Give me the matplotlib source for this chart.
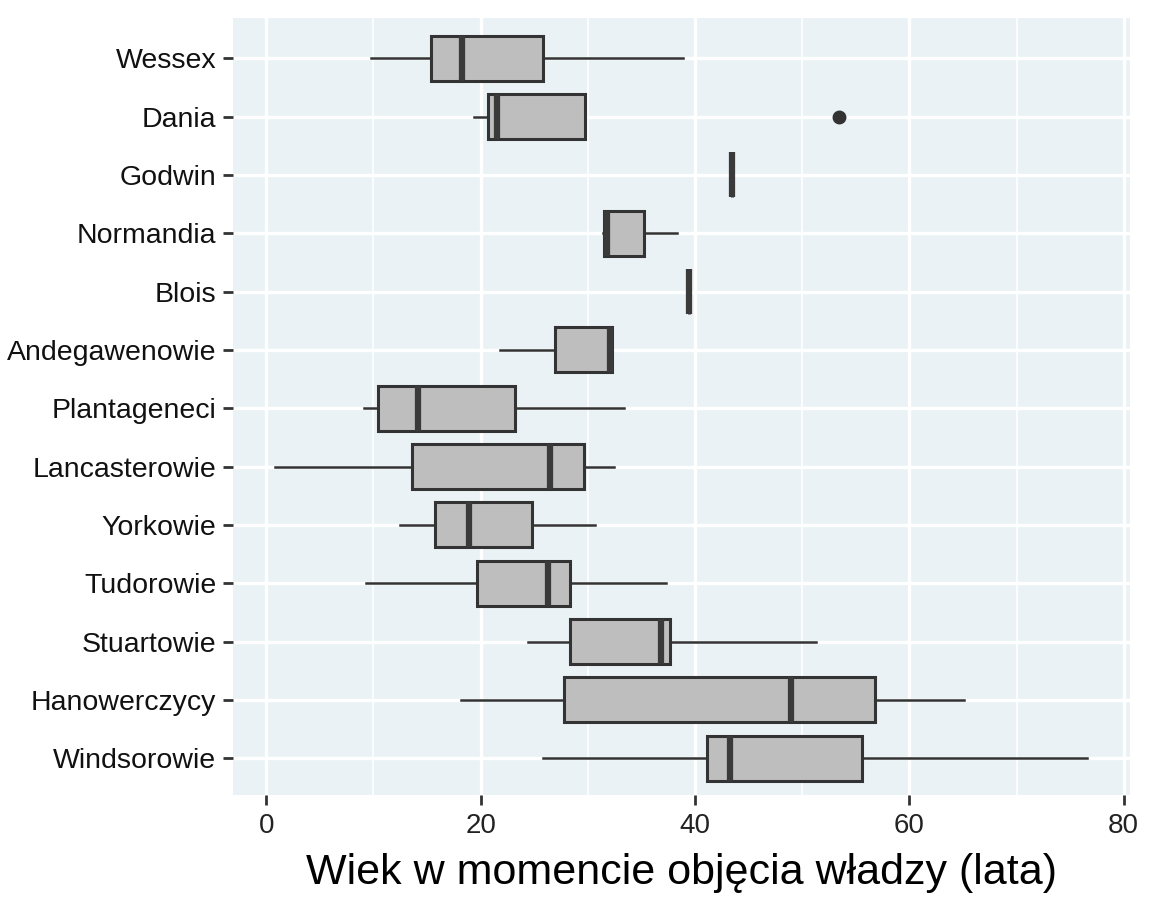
import matplotlib
matplotlib.use("Agg")
import matplotlib.pyplot as plt
from matplotlib.ticker import MultipleLocator

plt.rcParams['font.family'] = ['Liberation Sans', 'DejaVu Sans']

# dynastie, od gory do dolu
dynasties = ["Wessex", "Dania", "Godwin", "Normandia", "Blois", "Andegawenowie",
             "Plantageneci", "Lancasterowie", "Yorkowie", "Tudorowie", "Stuartowie",
             "Hanowerczycy", "Windsorowie"]

# statystyki (lata)
wlo = [9.8, 19.4, 43.5, 31.4, 39.4, 21.8, 9.1, 0.8, 12.5, 9.3, 24.4, 18.2, 25.8]
q1 = [15.4, 20.7, 43.5, 31.5, 39.4, 26.9, 10.4, 13.6, 15.7, 19.7, 28.3, 27.8, 41.1]
med = [18.3, 21.5, 43.5, 31.8, 39.4, 32.1, 14.2, 26.5, 18.9, 26.3, 36.8, 49.0, 43.3]
q3 = [25.8, 29.7, 43.5, 35.2, 39.4, 32.3, 23.2, 29.6, 24.8, 28.3, 37.7, 56.8, 55.6]
whi = [38.9, 29.7, 43.5, 38.3, 39.4, 32.3, 33.4, 32.4, 30.7, 37.3, 51.3, 65.1, 76.6]
outliers = {"Dania": [53.4]}

stats = []
for i, name in enumerate(dynasties):
    stats.append({"whislo": wlo[i], "q1": q1[i], "med": med[i], "q3": q3[i],
                  "whishi": whi[i], "fliers": outliers.get(name, []), "label": name})

fig = plt.figure(figsize=(11.52, 9.22), dpi=100)
ax = fig.add_axes([0.2023, 0.1377, 0.7787, 0.8428])
ax.set_facecolor("#EAF2F5")

ax.bxp(stats, positions=range(len(dynasties)), vert=False, widths=0.77,
       showcaps=False, patch_artist=True,
       boxprops=dict(facecolor="#BEBEBE", edgecolor="#333333", linewidth=2.2),
       whiskerprops=dict(color="#333333", linewidth=1.8),
       medianprops=dict(color="#3a3a3a", linewidth=4.5),
       flierprops=dict(marker="o", markerfacecolor="#333333", markeredgecolor="#333333",
                       markersize=9))

ax.set_xlim(-3.1, 80.6)
ax.set_ylim(len(dynasties) - 0.37, -0.69)
ax.xaxis.set_major_locator(MultipleLocator(20))
ax.xaxis.set_minor_locator(MultipleLocator(10))
ax.set_yticks(range(len(dynasties)))
ax.set_yticklabels(dynasties)

ax.grid(which="major", color="white", linewidth=2.4)
ax.grid(which="minor", axis="x", color="white", linewidth=1.2)
ax.set_axisbelow(True)
for s in ax.spines.values():
    s.set_visible(False)

ax.tick_params(axis="y", which="major", length=7, width=2, color="#333333",
               labelsize=20.5, labelcolor="#111111", pad=5)
ax.tick_params(axis="x", which="major", length=7, width=2, color="#333333",
               labelsize=20, labelcolor="#222222", pad=6)
ax.tick_params(axis="x", which="minor", length=0)
ax.set_xlabel("Wiek w momencie objęcia władzy (lata)", fontsize=31, color="black", labelpad=10)

fig.savefig("out.png", dpi=100)
